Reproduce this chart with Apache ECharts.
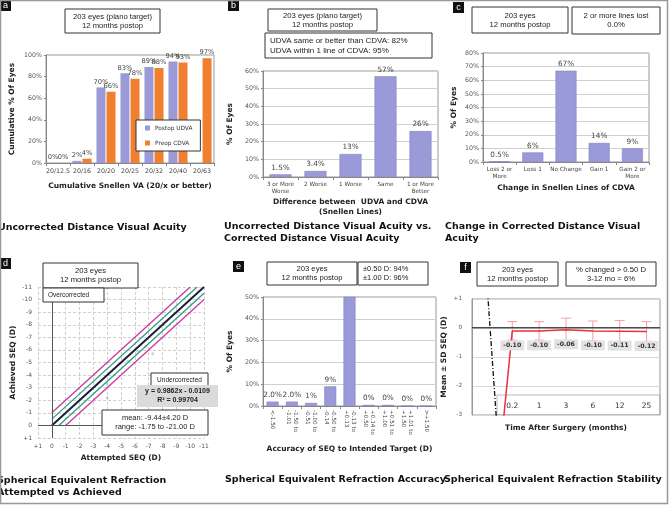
<!DOCTYPE html>
<html><head><meta charset="utf-8">
<script src="https://cdn.jsdelivr.net/npm/echarts@6/dist/echarts.min.js"></script>
<style>html,body{margin:0;padding:0;background:#fff}#c{width:669px;height:505px}</style>
</head><body><div id="c"></div><script>
// ---- Panel a: cumulative Snellen VA
const aCategories = ['20/12.5','20/16','20/20','20/25','20/32','20/40','20/63'];
const aPostopUDVA = [0, 2, 70, 83, 89, 94, null];
const aPreopCDVA = [0, 4, 66, 78, 88, 93, 97];
// ---- Panel b: UDVA vs CDVA
const bCategories = ['3 or More\nWorse','2 Worse','1 Worse','Same','1 or More\nBetter'];
const bValues = [1.5, 3.4, 13, 57, 26];
const bLabels = ['1.5%','3.4%','13%','57%','26%'];
// ---- Panel c: change in CDVA
const cCategories = ['Loss 2 or\nMore','Loss 1','No Change','Gain 1','Gain 2 or\nMore'];
const cValues = [0.5, 7, 67, 14, 10];
const cLabels = ['0.5%','6%','67%','14%','9%'];
// ---- Panel d: attempted vs achieved
const dIdeal = [[0,0],[-11,-11]];
const dHalfOver = [[0,-0.5],[-10.5,-11]];
const dHalfUnder = [[-0.5,0],[-11,-10.5]];
const dOneOver = [[0,-1],[-10,-11]];
const dOneUnder = [[-1,0],[-11,-10]];
const dPoints = [[-4,-3.3],[-4,-2.2],[-5.5,-5.1],[-6.8,-6.3],[-7.3,-5.7],[-6.2,-5.9]];
// ---- Panel e: accuracy
const eCategories = ['<-1.50','-1.50 to\n-1.01','-1.00 to\n-0.51','-0.50 to\n-0.14','-0.13 to\n+0.13','+0.14 to\n+0.50','+0.51 to\n+1.00','+1.01 to\n+1.50','>+1.50'];
const eValues = [2.0, 2.0, 1.4, 9, 84.5, 0.5, 0.5, 0, 0];
const eLabels = ['2.0%','2.0%','1%','9%','','0%','0%','0%','0%'];
// ---- Panel f: stability
const fCategories = ['Preop','0.2','1','3','6','12','25'];
const fMean = [-9.44, -0.10, -0.10, -0.06, -0.10, -0.11, -0.12];
const fSD = [null, 0.32, 0.32, 0.40, 0.34, 0.37, 0.34];
const fTrend = [2.3, -11, null, null, null, null, null];

const BOLD = 'DejaVu Sans';
const ARIAL = 'Liberation Sans';
const BAR = '#9a9ad8';
const ORANGE = '#f08030';

function pctAxis(gi, max, interval, name, gap, split) {
  return {gridIndex: gi, type: 'value', min: 0, max: max, interval: interval,
    name: name, nameLocation: 'middle', nameGap: gap, nameRotate: 90,
    nameTextStyle: {fontFamily: BOLD, fontWeight: 'bold', fontSize: 7.5, color: '#222'},
    axisLine: {show: true, lineStyle: {color: '#888'}}, axisTick: {show: true, length: 2, lineStyle: {color: '#888'}},
    axisLabel: {formatter: '{value}%', fontFamily: BOLD, fontSize: 6.3, color: '#555', margin: 4},
    splitLine: {show: split, lineStyle: {color: '#d0d0d0'}}};
}
function catAxis(gi, data, name, gap, extra) {
  return Object.assign({gridIndex: gi, type: 'category', data: data,
    name: name, nameLocation: 'middle', nameGap: gap,
    nameTextStyle: {fontFamily: BOLD, fontWeight: 'bold', fontSize: 7.5, color: '#222', lineHeight: 10},
    axisLine: {lineStyle: {color: '#888'}}, axisTick: {show: true, length: 3, lineStyle: {color: '#888'}},
    axisLabel: {fontFamily: BOLD, fontSize: 5.7, color: '#444', margin: 4, lineHeight: 7, interval: 0}}, extra || {});
}
function signed(v) { return v > 0 ? '+' + v : '' + v; }

const graphics = [];
function box(x, y, w, h, lines, opt) {
  opt = opt || {};
  graphics.push({type: 'rect', z: opt.z === undefined ? 50 : opt.z, shape: {x: x, y: y, width: w, height: h},
    style: {fill: opt.fill || '#fff', stroke: opt.stroke === undefined ? '#333' : opt.stroke, lineWidth: 1}});
  const left = opt.align === 'left';
  graphics.push({type: 'text', z: (opt.z === undefined ? 50 : opt.z) + 1, x: left ? x + 5 : x + w / 2, y: y + h / 2,
    style: {text: lines.join('\n'), fontFamily: ARIAL, fontSize: opt.fs || 7.7, fontWeight: opt.bold ? 'bold' : 'normal',
      textAlign: left ? 'left' : 'center', textVerticalAlign: 'middle', fill: '#222', lineHeight: opt.lh || 9}});
}
function tag(x, y, letter) {
  graphics.push({type: 'rect', z: 60, shape: {x: x, y: y, width: 11, height: 11}, style: {fill: '#111'}});
  graphics.push({type: 'text', z: 61, x: x + 5.5, y: y + 5.5, style: {text: letter, fontFamily: ARIAL, fontSize: 9,
    fill: '#fff', textAlign: 'center', textVerticalAlign: 'middle'}});
}
function caption(x, y, lines) {
  graphics.push({type: 'text', z: 60, x: x, y: y, style: {text: lines.join('\n'), fontFamily: BOLD, fontWeight: 'bold',
    fontSize: 9.5, fill: '#111', textAlign: 'left', textVerticalAlign: 'top', lineHeight: 12}});
}

// outer frame
graphics.push({type: 'rect', z: 70, shape: {x: 0.5, y: 0.5, width: 667, height: 503}, style: {fill: 'none', stroke: '#999', lineWidth: 1.5}});

// panel a
tag(0, 0, 'a');
box(65, 9, 95, 24, ['203 eyes (plano target)', '12 months postop']);
caption(-2, 222, ['Uncorrected Distance Visual Acuity']);
// panel b
tag(228, 0, 'b');
box(268, 9, 109, 22, ['203 eyes (plano target)', '12 months postop']);
box(265, 33, 167, 25, ['UDVA same or better than CDVA: 82%', 'UDVA within 1 line of CDVA: 95%'], {align: 'left', fs: 8, lh: 10});
caption(224, 221, ['Uncorrected Distance Visual Acuity vs.', 'Corrected Distance Visual Acuity']);
// panel c
tag(453, 2, 'c');
box(472, 7, 96, 26, ['203 eyes', '12 months postop']);
box(572, 7, 88, 27, ['2 or more lines lost', '0.0%']);
caption(445, 221, ['Change in Corrected Distance Visual', 'Acuity']);
// panel d
tag(0, 258, 'd');
box(43, 263, 95, 25, ['203 eyes', '12 months postop']);
box(43, 288, 61, 14, ['Overcorrected'], {align: 'left', fs: 6.5});
box(151, 373, 57, 14, ['Undercorrected'], {fs: 6.5});
box(137, 385, 81, 22, ['y = 0.9862x - 0.0109', 'R² = 0.99704'], {fill: '#dadada', stroke: null, bold: true, fs: 7, z: 52});
box(102, 410, 106, 25, ['mean: -9.44±4.20 D', 'range: -1.75 to -21.00 D'], {fs: 7.5});
caption(-3, 475, ['Spherical Equivalent Refraction', 'Attempted vs Achieved']);
// panel e
tag(233, 261, 'e');
box(267, 262, 90, 23, ['203 eyes', '12 months postop']);
box(358, 262, 70, 23, ['±0.50 D: 94%', '±1.00 D: 96%'], {align: 'left', fs: 7.5});
caption(225, 474, ['Spherical Equivalent Refraction Accuracy']);
// panel f
tag(460, 262, 'f');
box(477, 262, 81, 24, ['203 eyes', '12 months postop']);
box(566, 262, 90, 24, ['% changed > 0.50 D', '3-12 mo = 6%']);
box(497, 395, 163, 20, [''], {z: -1, stroke: '#bbb'});
caption(444, 474, ['Spherical Equivalent Refraction Stability']);

const grids = [
  {left: 46, top: 55, width: 168, height: 108},
  {left: 263, top: 71, width: 175, height: 106},
  {left: 483, top: 53, width: 166, height: 109},
  {left: 38, top: 287, width: 166, height: 151},
  {left: 263, top: 297, width: 173, height: 109},
  {left: 472, top: 299, width: 188, height: 116}
].map(g => Object.assign({show: true, borderColor: '#999', borderWidth: 1, backgroundColor: 'transparent'}, g));
grids[3].show = false;

const barLabel = (arr) => ({show: true, position: 'top', distance: 3, fontFamily: BOLD, fontSize: 7.3, color: '#444',
  formatter: p => arr[p.dataIndex]});

const fErr = fMean.map((m, i) => fSD[i] == null ? null : [i, m - fSD[i], m + fSD[i]]).filter(v => v);

const option = {
  animation: false,
  backgroundColor: '#fff',
  grid: grids,
  legend: {data: ['Postop UDVA', 'Preop CDVA'], orient: 'vertical', left: 136, top: 120,
    itemWidth: 5, itemHeight: 5, itemGap: 9, icon: 'rect', padding: [5, 8, 5, 9],
    backgroundColor: '#fff', borderColor: '#333', borderWidth: 1,
    textStyle: {fontFamily: BOLD, fontSize: 5.8, color: '#333'}},
  xAxis: [
    catAxis(0, aCategories, 'Cumulative Snellen VA (20/x or better)', 18, {axisLabel: {fontFamily: BOLD, fontSize: 6.3, color: '#444', margin: 5, interval: 0}}),
    catAxis(1, bCategories, 'Difference between  UDVA and CDVA\n(Snellen Lines)', 20),
    catAxis(2, cCategories, 'Change in Snellen Lines of CDVA', 21),
    {gridIndex: 3, type: 'value', min: -11, max: 1, interval: 1, inverse: true,
      name: 'Attempted SEQ (D)', nameLocation: 'middle', nameGap: 16,
      nameTextStyle: {fontFamily: BOLD, fontWeight: 'bold', fontSize: 7.5, color: '#222'},
      axisLine: {show: false}, axisTick: {show: false},
      axisLabel: {formatter: signed, fontFamily: BOLD, fontSize: 6, color: '#555', margin: 5},
      splitLine: {show: true, lineStyle: {color: '#d0d0d0', type: [3, 2]}}},
    catAxis(4, eCategories, 'Accuracy of SEQ to Intended Target (D)', 38,
      {axisLabel: {rotate: -90, fontFamily: BOLD, fontSize: 5.7, color: '#444', margin: 4, lineHeight: 7, interval: 0, align: 'left', verticalAlign: 'middle'}}),
    {gridIndex: 5, type: 'category', data: fCategories, z: 10,
      name: 'Time After Surgery (months)', nameLocation: 'middle', nameGap: 9,
      nameTextStyle: {fontFamily: BOLD, fontWeight: 'bold', fontSize: 7.5, color: '#222'},
      axisLine: {lineStyle: {color: '#999'}}, axisTick: {show: false},
      axisLabel: {inside: true, margin: 5, interval: (i) => i > 0, fontFamily: BOLD, fontSize: 7.5, color: '#333'}}
  ],
  yAxis: [
    pctAxis(0, 100, 20, 'Cumulative % Of Eyes', 30, false),
    pctAxis(1, 60, 10, '% Of Eyes', 29, true),
    pctAxis(2, 80, 10, '% Of Eyes', 25, true),
    {gridIndex: 3, type: 'value', min: -11, max: 1, interval: 1, inverse: true,
      name: 'Achieved SEQ (D)', nameLocation: 'middle', nameGap: 21, nameRotate: 90,
      nameTextStyle: {fontFamily: BOLD, fontWeight: 'bold', fontSize: 7.5, color: '#222'},
      axisLine: {show: false}, axisTick: {show: false},
      axisLabel: {formatter: signed, fontFamily: BOLD, fontSize: 6, color: '#555', margin: 6},
      splitLine: {show: true, lineStyle: {color: '#d0d0d0', type: [3, 2]}}},
    pctAxis(4, 50, 10, '% Of Eyes', 29, true),
    {gridIndex: 5, type: 'value', min: -3, max: 1, interval: 1,
      name: 'Mean ± SD SEQ (D)', nameLocation: 'middle', nameGap: 24, nameRotate: 90,
      nameTextStyle: {fontFamily: BOLD, fontWeight: 'bold', fontSize: 7.5, color: '#222'},
      axisLine: {show: true, lineStyle: {color: '#999'}}, axisTick: {show: false},
      axisLabel: {formatter: signed, fontFamily: BOLD, fontSize: 5.7, color: '#555', margin: 10},
      splitLine: {show: true, lineStyle: {color: '#d8d8d8'}}}
  ],
  graphic: graphics,
  series: [
    {name: 'Postop UDVA', type: 'bar', xAxisIndex: 0, yAxisIndex: 0, data: aPostopUDVA, barWidth: 9, barGap: '12%',
      itemStyle: {color: BAR}, label: {show: true, position: 'top', distance: 2, fontFamily: BOLD, fontSize: 6.7, color: '#444', formatter: '{c}%'}},
    {name: 'Preop CDVA', type: 'bar', xAxisIndex: 0, yAxisIndex: 0, data: aPreopCDVA, barWidth: 9,
      itemStyle: {color: ORANGE}, label: {show: true, position: 'top', distance: 2, fontFamily: BOLD, fontSize: 6.7, color: '#444', formatter: '{c}%'}},
    {type: 'bar', xAxisIndex: 1, yAxisIndex: 1, data: bValues, barWidth: 22,
      itemStyle: {color: BAR, borderColor: '#7d7dc0', borderWidth: 0.5}, label: barLabel(bLabels)},
    {type: 'bar', xAxisIndex: 2, yAxisIndex: 2, data: cValues, barWidth: 21,
      itemStyle: {color: BAR, borderColor: '#7d7dc0', borderWidth: 0.5}, label: barLabel(cLabels)},
    {type: 'line', xAxisIndex: 3, yAxisIndex: 3, data: dOneOver, symbol: 'none', lineStyle: {color: '#c8379e', width: 1.3}, z: 3},
    {type: 'line', xAxisIndex: 3, yAxisIndex: 3, data: dOneUnder, symbol: 'none', lineStyle: {color: '#c8379e', width: 1.3}, z: 3},
    {type: 'line', xAxisIndex: 3, yAxisIndex: 3, data: dHalfOver, symbol: 'none', lineStyle: {color: '#2f9e76', width: 1.3}, z: 3},
    {type: 'line', xAxisIndex: 3, yAxisIndex: 3, data: dHalfUnder, symbol: 'none', lineStyle: {color: '#2f9e76', width: 1.3}, z: 3},
    {type: 'line', xAxisIndex: 3, yAxisIndex: 3, data: dIdeal, symbol: 'none', lineStyle: {color: '#1c1c3c', width: 2}, z: 4,
      markLine: {silent: true, symbol: 'none', label: {show: false}, lineStyle: {color: '#555', width: 1, type: 'solid'},
        data: [{xAxis: 0}, {yAxis: 0}]}},
    {type: 'scatter', xAxisIndex: 3, yAxisIndex: 3, data: dPoints, symbolSize: 3, itemStyle: {color: '#c4c4c4'}, z: 2},
    {type: 'bar', xAxisIndex: 4, yAxisIndex: 4, data: eValues, barWidth: 12, clip: true,
      itemStyle: {color: BAR, borderColor: '#7d7dc0', borderWidth: 0.5}, label: barLabel(eLabels)},
    {type: 'line', xAxisIndex: 5, yAxisIndex: 5, data: fTrend, symbol: 'none', clip: true,
      lineStyle: {color: '#111', width: 1.3, type: [5, 2, 1, 2]}, z: 3},
    {type: 'custom', xAxisIndex: 5, yAxisIndex: 5, data: fErr, z: 3,
      renderItem: function (params, api) {
        const i = api.value(0);
        const lo = api.coord([i, api.value(1)]);
        const hi = api.coord([i, api.value(2)]);
        const st = {stroke: '#f2a0a6', lineWidth: 1};
        return {type: 'group', children: [
          {type: 'line', shape: {x1: lo[0], y1: lo[1], x2: hi[0], y2: hi[1]}, style: st},
          {type: 'line', shape: {x1: hi[0] - 5, y1: hi[1], x2: hi[0] + 5, y2: hi[1]}, style: st},
          {type: 'line', shape: {x1: lo[0] - 5, y1: lo[1], x2: lo[0] + 5, y2: lo[1]}, style: st}
        ]};
      }},
    {type: 'line', xAxisIndex: 5, yAxisIndex: 5, clip: true, showSymbol: true, symbol: 'circle', symbolSize: 1,
      itemStyle: {color: '#e8303c'},
      data: fMean.map((v, i) => i === 0 ? {value: v, label: {show: false}} : v),
      lineStyle: {color: '#e8303c', width: 1.5}, z: 5,
      label: {show: true, position: 'bottom', distance: 9, formatter: p => Number(p.value).toFixed(2),
        backgroundColor: '#e2e2e2', padding: [2, 3], fontFamily: BOLD, fontWeight: 'bold', fontSize: 6.2, color: '#333'},
      markLine: {silent: true, symbol: 'none', label: {show: false}, lineStyle: {color: '#111', width: 1.5, type: 'solid'},
        data: [{yAxis: 0}]}}
  ]
};
const chart = echarts.init(document.getElementById('c'), null, {renderer: 'canvas'});
chart.setOption(option);
</script></body></html>
